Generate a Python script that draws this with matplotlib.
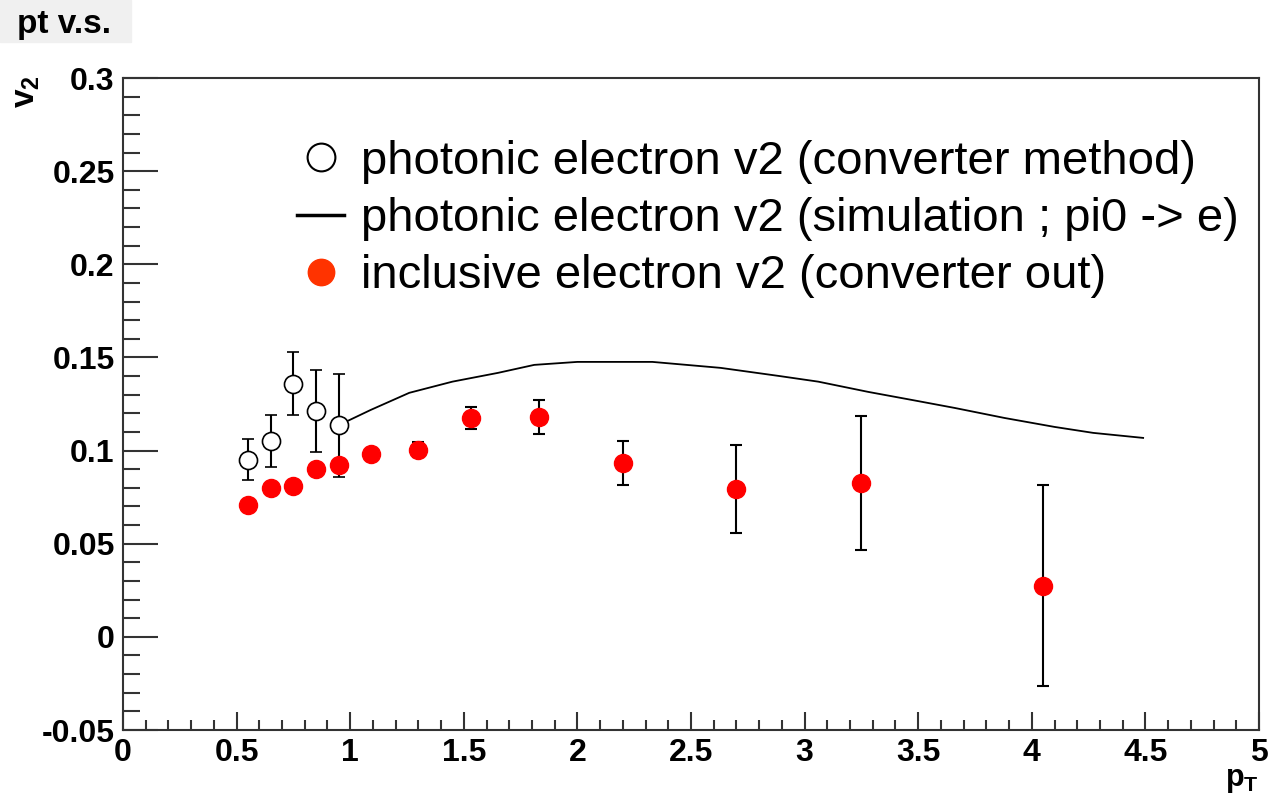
import matplotlib.pyplot as plt
from matplotlib.lines import Line2D
from matplotlib.patches import Rectangle

plt.rcParams['font.family'] = ['Liberation Sans', 'DejaVu Sans']
plt.rcParams['mathtext.fontset'] = 'custom'
plt.rcParams['mathtext.rm'] = 'Liberation Sans:bold'
plt.rcParams['mathtext.it'] = 'Liberation Sans:bold'
plt.rcParams['mathtext.bf'] = 'Liberation Sans:bold'

# photonic electron v2 (converter method)
conv_pt = [0.55, 0.65, 0.75, 0.85, 0.95]
conv_v2 = [0.095, 0.105, 0.136, 0.121, 0.1135]
conv_err = [0.011, 0.014, 0.017, 0.022, 0.0275]

# photonic electron v2 (simulation ; pi0 -> e)
sim_pt = [0.98, 1.09, 1.26, 1.45, 1.65, 1.81, 2.0, 2.33, 2.63, 2.89, 3.06,
          3.28, 3.48, 3.66, 3.88, 4.10, 4.27, 4.49]
sim_v2 = [0.1154, 0.1218, 0.131, 0.137, 0.1417, 0.146, 0.1476, 0.1476, 0.1444,
          0.140, 0.137, 0.1315, 0.127, 0.1229, 0.1175, 0.1127, 0.1095, 0.1068]

# inclusive electron v2 (converter out)
incl_pt = [0.55, 0.65, 0.75, 0.85, 0.95, 1.09, 1.30, 1.53, 1.83, 2.2, 2.7, 3.25, 4.05]
incl_v2 = [0.071, 0.080, 0.081, 0.090, 0.092, 0.098, 0.1005, 0.1175, 0.118,
           0.0934, 0.0794, 0.0827, 0.0274]
incl_err = [0.002, 0.002, 0.002, 0.002, 0.002, 0.002, 0.004, 0.006, 0.009,
            0.012, 0.0235, 0.036, 0.054]

fig = plt.figure(figsize=(12.7, 7.97), dpi=100)
ax = fig.add_axes([123 / 1270, 1 - 730 / 797, 1136 / 1270, 652 / 797])

ax.plot(sim_pt, sim_v2, color='black', lw=1.3, zorder=2)
ax.errorbar(conv_pt, conv_v2, yerr=conv_err, fmt='o', ms=13, mfc='white', mec='black',
            mew=1.2, ecolor='black', elinewidth=1.5, capsize=4, capthick=1.5, zorder=3)
ax.errorbar(incl_pt, incl_v2, yerr=incl_err, fmt='o', ms=13, color='#ff0000',
            ecolor='black', elinewidth=1.5, capsize=4, capthick=1.5, zorder=4)

ax.set_xlim(0, 5)
ax.set_ylim(-0.05, 0.3)
ax.set_xticks([0, 0.5, 1, 1.5, 2, 2.5, 3, 3.5, 4, 4.5, 5])
ax.set_xticklabels(['0', '0.5', '1', '1.5', '2', '2.5', '3', '3.5', '4', '4.5', '5'])
ax.set_xticks([i * 0.1 for i in range(51)], minor=True)
ax.set_yticks([-0.05, 0, 0.05, 0.1, 0.15, 0.2, 0.25, 0.3])
ax.set_yticklabels(['-0.05', '0', '0.05', '0.1', '0.15', '0.2', '0.25', '0.3'])
ax.set_yticks([-0.05 + i * 0.01 for i in range(36)], minor=True)

ax.tick_params(axis='both', which='both', direction='in', top=False, right=False,
               width=1.5, color='#333333')
ax.tick_params(axis='x', which='major', length=13, pad=6)
ax.tick_params(axis='x', which='minor', length=7)
ax.tick_params(axis='y', which='major', length=25, pad=6)
ax.tick_params(axis='y', which='minor', length=12)
for lab in ax.get_xticklabels() + ax.get_yticklabels():
    lab.set_fontsize(23)
    lab.set_fontweight('bold')
for sp in ax.spines.values():
    sp.set_linewidth(1.5)
    sp.set_color('#333333')

handles = [
    Line2D([], [], marker='o', ls='none', ms=20, mfc='white', mec='black', mew=1.5),
    Line2D([], [], color='black', lw=2.5),
    Line2D([], [], marker='o', ls='none', ms=19, color='#ff3300'),
]
labels = ['photonic electron v2 (converter method)',
          'photonic electron v2 (simulation ; pi0 -> e)',
          'inclusive electron v2 (converter out)']
ax.legend(handles, labels, loc='upper left', bbox_to_anchor=(297 / 1270, 1 - 140 / 797),
          bbox_transform=fig.transFigure, frameon=False, fontsize=34, handlelength=1.0,
          handletextpad=0.35, labelspacing=0.28, borderpad=0, borderaxespad=0, numpoints=1)

# title box and axis labels
fig.patches.append(Rectangle((0, 1 - 42 / 797), 131 / 1270, 42 / 797, color='#f0f0f0',
                             transform=fig.transFigure, zorder=0))
fig.text(17 / 1270, 1 - 24 / 797, 'pt v.s.', fontsize=24, fontweight='bold', va='center',
         ha='left')
fig.text(27 / 1270, 1 - 92 / 797, r'$\mathregular{v_2}$', fontsize=24, fontweight='bold',
         rotation=90, ha='center', va='center')
fig.text(1242 / 1270, 2 / 797, r'$\mathregular{p_T}$', fontsize=22, fontweight='bold',
         ha='center', va='bottom')

fig.savefig('out.png', dpi=100)
